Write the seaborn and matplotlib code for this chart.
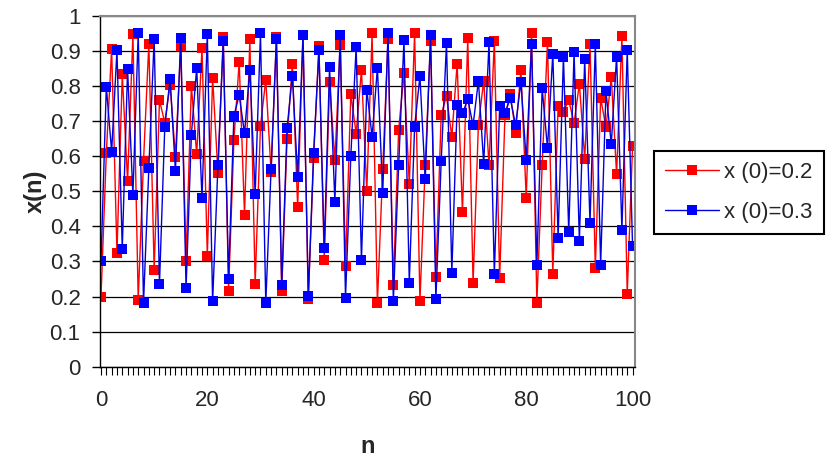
import matplotlib
matplotlib.use("Agg")
import matplotlib.pyplot as plt
import seaborn as sns
from matplotlib.ticker import MultipleLocator, FuncFormatter


# values, n = 0 .. 100
n = list(range(101))

x_02 = [
    0.200, 0.608, 0.906, 0.325, 0.833, 0.528, 0.947, 0.191, 0.587, 0.921,
    0.276, 0.759, 0.696, 0.804, 0.599, 0.913, 0.302, 0.801, 0.605, 0.908,
    0.317, 0.823, 0.553, 0.939, 0.217, 0.646, 0.869, 0.433, 0.933, 0.237,
    0.686, 0.818, 0.554, 0.939, 0.216, 0.648, 0.864, 0.455, 0.946, 0.193,
    0.595, 0.913, 0.303, 0.811, 0.588, 0.918, 0.288, 0.777, 0.664, 0.846,
    0.500, 0.950, 0.181, 0.563, 0.934, 0.232, 0.676, 0.836, 0.520, 0.950,
    0.186, 0.575, 0.928, 0.256, 0.718, 0.772, 0.655, 0.864, 0.441, 0.936,
    0.238, 0.690, 0.815, 0.575, 0.929, 0.253, 0.716, 0.778, 0.667, 0.845,
    0.480, 0.950, 0.183, 0.576, 0.926, 0.264, 0.743, 0.727, 0.759, 0.695,
    0.807, 0.592, 0.920, 0.280, 0.766, 0.682, 0.825, 0.548, 0.942, 0.208,
    0.628,
]

x_03 = [
    0.300, 0.798, 0.613, 0.902, 0.336, 0.848, 0.489, 0.950, 0.182, 0.566,
    0.934, 0.236, 0.684, 0.821, 0.558, 0.937, 0.224, 0.661, 0.852, 0.480,
    0.948, 0.186, 0.575, 0.929, 0.251, 0.715, 0.774, 0.665, 0.847, 0.492,
    0.950, 0.181, 0.564, 0.934, 0.233, 0.679, 0.829, 0.540, 0.944, 0.201,
    0.610, 0.903, 0.338, 0.855, 0.470, 0.946, 0.197, 0.601, 0.911, 0.305,
    0.790, 0.655, 0.852, 0.495, 0.950, 0.187, 0.575, 0.931, 0.240, 0.684,
    0.828, 0.534, 0.946, 0.192, 0.585, 0.923, 0.268, 0.745, 0.722, 0.762,
    0.688, 0.815, 0.578, 0.926, 0.264, 0.742, 0.722, 0.765, 0.688, 0.812,
    0.588, 0.919, 0.290, 0.793, 0.623, 0.892, 0.367, 0.884, 0.384, 0.896,
    0.358, 0.876, 0.410, 0.919, 0.290, 0.785, 0.635, 0.884, 0.390, 0.903,
    0.345,
]

labels = ["x (0)=0.2", "x (0)=0.3"]


sns.set_theme(style="white")
plt.rcParams["font.family"] = ["Liberation Sans", "DejaVu Sans"]

fig = plt.figure(figsize=(8.26, 4.66), dpi=100)
ax = fig.add_axes([0.121, 0.213, 0.648, 0.753])

sns.lineplot(
    x=n, y=x_02, ax=ax,
    color="#ff0000", linewidth=1.0,
    marker="s", markersize=7.5, markeredgewidth=0,
    markerfacecolor="#ff0000",
    label=labels[0]
)

sns.lineplot(
    x=n, y=x_03, ax=ax,
    color="#0000dd", linewidth=1.0,
    marker="s", markersize=7.5, markeredgewidth=0,
    markerfacecolor="#0000ff",
    label=labels[1]
)

ax.set_xlim(-0.2, 100.5)
ax.set_ylim(0, 1)

ax.yaxis.set_major_locator(MultipleLocator(0.1))
ax.yaxis.set_major_formatter(FuncFormatter(lambda v, p: f"{v:g}"))
ax.xaxis.set_major_locator(MultipleLocator(20))
ax.xaxis.set_minor_locator(MultipleLocator(1))

ax.yaxis.grid(True, color="black", linewidth=0.9)
ax.xaxis.grid(False)
ax.set_axisbelow(True)

ax.tick_params(axis="y", which="major", direction="out", length=6,
               width=1, color="black", labelsize=16, pad=8, left=True)
ax.tick_params(axis="x", which="both", direction="out", length=6,
               width=0.8, color="black", labelsize=16, pad=11, bottom=True)

for side in ["left", "bottom"]:
    ax.spines[side].set_color("black")
    ax.spines[side].set_linewidth(1)
for side in ["top", "right"]:
    ax.spines[side].set_color("#888888")
    ax.spines[side].set_linewidth(1.5)

ax.set_ylabel("x(n)", fontsize=17, fontweight="bold")
ax.yaxis.set_label_coords(-0.1, 0.5)
ax.set_xlabel("n", fontsize=17, fontweight="bold")
ax.xaxis.set_label_coords(0.5, -0.195)

leg = ax.legend(
    loc="upper left",
    bbox_to_anchor=(0.792, 0.676),
    bbox_transform=fig.transFigure,
    borderaxespad=0,
    fontsize=16,
    frameon=True,
    fancybox=False,
    handlelength=2.4,
    handletextpad=0.25,
    labelspacing=0.85,
    borderpad=0.5
)
leg.get_frame().set_edgecolor("black")
leg.get_frame().set_linewidth(1.5)
leg.get_frame().set_alpha(1)

fig.savefig("out.png", dpi=100)
